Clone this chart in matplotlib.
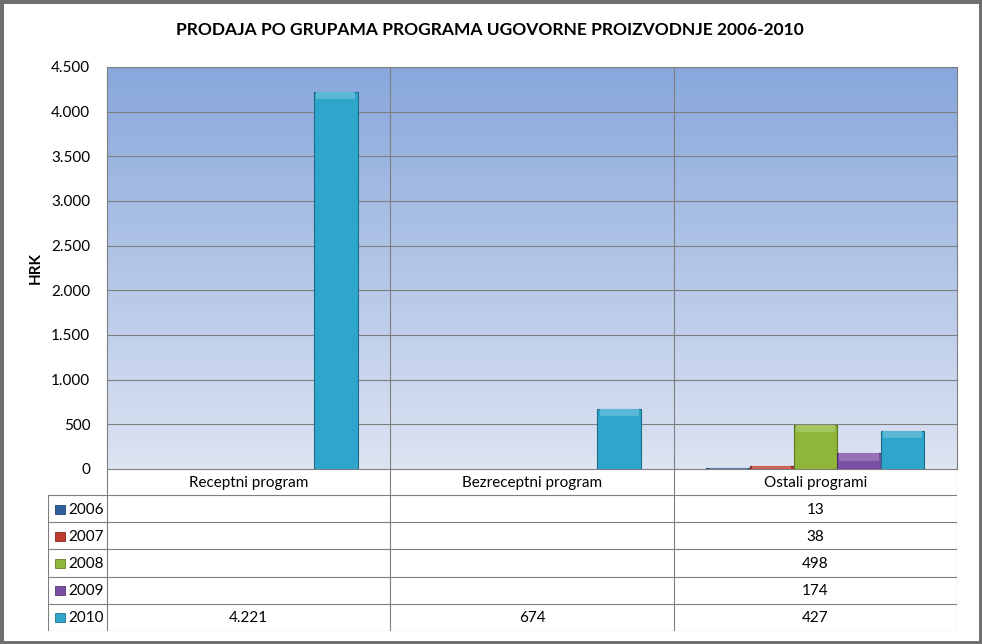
import numpy as np
import matplotlib.pyplot as plt
from matplotlib.patches import Rectangle
from matplotlib.colors import to_rgb

plt.rcParams['font.family'] = ['Lato', 'DejaVu Sans']

categories = ['Receptni program', 'Bezreceptni program', 'Ostali programi']
years = ['2006', '2007', '2008', '2009', '2010']
values = {
    '2006': [np.nan, np.nan, 13],
    '2007': [np.nan, np.nan, 38],
    '2008': [np.nan, np.nan, 498],
    '2009': [np.nan, np.nan, 174],
    '2010': [4221, 674, 427],
}
colors = ['#2f5f9f', '#c0392f', '#8fb63a', '#7a4ea3', '#2ea6cc']
yticks = np.arange(0, 4501, 500)

W, H = 982, 644
fig = plt.figure(figsize=(W / 100, H / 100), dpi=100)

def fx(px):
    return px / W

def fy(py):
    return 1 - py / H

# plot area in pixels
L, R, T, B = 107, 957, 67, 469
ax = fig.add_axes([fx(L), fy(B), fx(R - L), fy(T) - fy(B)])

# gradient background
top = np.array(to_rgb('#88a7dc'))
bot = np.array(to_rgb('#dde4f2'))
t = np.linspace(0, 1, 256)[:, None]
grad = (top * (1 - t) + bot * t)[:, None, :]
ax.imshow(grad, extent=[-0.5, 2.5, 0, 4500], aspect='auto', zorder=0)

n = len(years)
bw = 1 / 6.5
for i, (yr, c) in enumerate(zip(years, colors)):
    xs = np.arange(len(categories)) - 2 * bw + i * bw
    vals = np.array(values[yr], dtype=float)
    base = np.array(to_rgb(c))
    dark = base * 0.65
    light = np.clip(base + (1 - base) * 0.2, 0, 1)
    ax.bar(xs, vals, width=bw, color=c, edgecolor=dark, linewidth=0.8, zorder=3)
    # bevel on top
    cap = np.minimum(vals, 80)
    ax.bar(xs, cap, width=bw * 0.9, bottom=vals - cap, color=light,
           linewidth=0, zorder=4)

for yv in yticks[1:]:
    ax.axhline(yv, color='#7f7f7f', lw=0.8, zorder=1)
for xv in [0.5, 1.5]:
    ax.axvline(xv, color='#7f7f7f', lw=0.8, zorder=1)

ax.set_xlim(-0.5, 2.5)
ax.set_ylim(0, 4500)
ax.set_yticks(yticks)
ax.set_yticklabels([f'{v:,}'.replace(',', '.') for v in yticks], fontsize=11)
ax.set_xticks([])
ax.tick_params(axis='y', length=0, pad=12)
for s in ax.spines.values():
    s.set_color('#7f7f7f')
    s.set_linewidth(0.8)
ax.set_ylabel('HRK', fontsize=11, fontweight='bold', labelpad=6)

fig.text(fx(490), fy(30), 'PRODAJA PO GRUPAMA PROGRAMA UGOVORNE PROIZVODNJE 2006-2010',
         ha='center', va='center', fontsize=12.5, fontweight='bold')

# data table below the chart
tx0, tx1, ty0, ty1 = 48, 957, 469, 631
tab = fig.add_axes([fx(tx0), fy(ty1), fx(tx1 - tx0), fy(ty0) - fy(ty1)])
tab.set_xlim(tx0, tx1)
tab.set_ylim(ty1, ty0)
tab.axis('off')
gc = '#7f7f7f'
head = 495
rh = (ty1 - head) / n
colx = [L + (R - L) * k / 3 for k in range(4)]
# header row
for k, cat in enumerate(categories):
    tab.text((colx[k] + colx[k + 1]) / 2, (ty0 + head) / 2 + 1, cat,
             ha='center', va='center', fontsize=11)
for xv in colx:
    tab.plot([xv, xv], [ty0, ty1], color=gc, lw=0.8)
tab.plot([tx0, tx0], [head, ty1], color=gc, lw=0.8)
for j in range(n + 1):
    yv = head + j * rh
    tab.plot([tx0, R], [yv, yv], color=gc, lw=0.8)
for j, (yr, c) in enumerate(zip(years, colors)):
    yc = head + (j + 0.5) * rh
    tab.add_patch(Rectangle((55, yc - 4), 10, 9, facecolor=c,
                            edgecolor=np.array(to_rgb(c)) * 0.7, lw=0.6))
    tab.text(68, yc + 1, yr, ha='left', va='center', fontsize=11)
    for k, v in enumerate(values[yr]):
        if not np.isnan(v):
            tab.text((colx[k] + colx[k + 1]) / 2, yc + 1,
                     f'{int(v):,}'.replace(',', '.'),
                     ha='center', va='center', fontsize=11)

# outer frame
fig.patches.append(Rectangle((0, 0), 1, 1, transform=fig.transFigure,
                             fill=False, edgecolor='#6f6f6f', lw=5))

fig.savefig('out.png', dpi=100)
